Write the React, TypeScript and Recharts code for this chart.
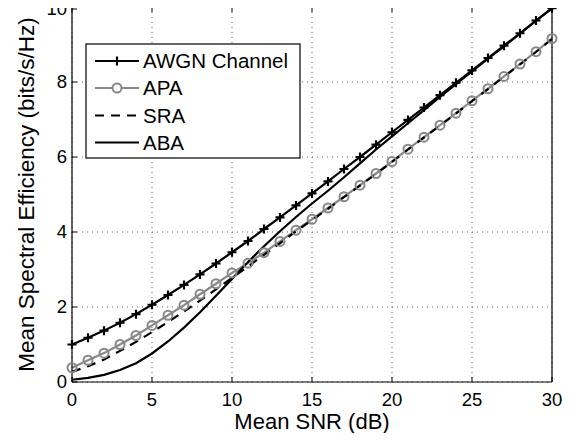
import React from 'react';
import { LineChart, Line, XAxis, YAxis, CartesianGrid } from 'recharts';

const snr = [0, 1, 2, 3, 4, 5, 6, 7, 8, 9, 10, 11, 12, 13, 14, 15, 16, 17, 18, 19, 20, 21, 22, 23, 24, 25, 26, 27, 28, 29, 30];
const awgn = [1.0, 1.18, 1.37, 1.58, 1.81, 2.06, 2.32, 2.59, 2.87, 3.16, 3.46, 3.76, 4.08, 4.39, 4.71, 5.03, 5.35, 5.68, 6.0, 6.33, 6.66, 6.99, 7.32, 7.65, 7.98, 8.31, 8.64, 8.97, 9.3, 9.64, 9.97];
const apa = [0.38, 0.58, 0.77, 1.0, 1.24, 1.51, 1.78, 2.05, 2.34, 2.62, 2.91, 3.17, 3.45, 3.75, 4.05, 4.34, 4.64, 4.94, 5.25, 5.56, 5.88, 6.21, 6.53, 6.85, 7.17, 7.5, 7.82, 8.15, 8.48, 8.81, 9.16];
const sra = [0.27, 0.42, 0.6, 0.83, 1.07, 1.33, 1.6, 1.88, 2.17, 2.47, 2.78, 3.08, 3.39, 3.7, 4.02, 4.32, 4.62, 4.93, 5.24, 5.55, 5.87, 6.2, 6.52, 6.84, 7.16, 7.49, 7.81, 8.14, 8.47, 8.8, 9.15];
const aba = [0.06, 0.11, 0.19, 0.32, 0.5, 0.76, 1.08, 1.45, 1.86, 2.3, 2.75, 3.2, 3.62, 4.02, 4.4, 4.76, 5.1, 5.46, 5.83, 6.2, 6.55, 6.9, 7.25, 7.6, 7.94, 8.28, 8.62, 8.95, 9.29, 9.63, 9.96];

const xTicks = [0, 5, 10, 15, 20, 25, 30];
const yTicks = [0, 2, 4, 6, 8, 10];
const seriesNames = ['AWGN Channel', 'APA', 'SRA', 'ABA'];

const data = snr.map((s, i) => ({ snr: s, awgn: awgn[i], apa: apa[i], sra: sra[i], aba: aba[i] }));

const GRAY = '#888888';
const FONT = '"Liberation Sans", Arial, Helvetica, sans-serif';

const BottomTick = (props: any) => {
  const { x, y, payload } = props;
  return (
    <g>
      <line x1={x} y1={y} x2={x} y2={y - 5} stroke="#000" />
      <text x={x} y={y + 24} textAnchor="middle" fontSize={18.5} fontFamily={FONT} fill="#000">{payload.value}</text>
    </g>
  );
};

const LeftTick = (props: any) => {
  const { x, y, payload } = props;
  return (
    <g>
      <line x1={x} y1={y} x2={x + 5} y2={y} stroke="#000" />
      <text x={x - 5} y={y} dy="0.35em" textAnchor="end" fontSize={18.5} fontFamily={FONT} fill="#000">{payload.value}</text>
    </g>
  );
};

const TopTick = (props: any) => {
  const { x, y } = props;
  return <line x1={x} y1={y} x2={x} y2={y + 5} stroke="#000" />;
};

const RightTick = (props: any) => {
  const { x, y } = props;
  return <line x1={x} y1={y} x2={x - 5} y2={y} stroke="#000" />;
};

const PlusDot = (props: any) => {
  const { cx, cy, index } = props;
  if (cx == null || cy == null) return <g key={index} />;
  return (
    <path key={index} d={`M${cx - 4.5},${cy}H${cx + 4.5}M${cx},${cy - 4.5}V${cy + 4.5}`} stroke="#000" strokeWidth={2.2} />
  );
};

const YLabel = (props: any) => {
  const vb = props.viewBox;
  const cx = vb.x + 14;
  const cy = vb.y + vb.height / 2;
  return (
    <text x={cx} y={cy} dy="0.35em" textAnchor="middle" fontSize={22.5} fontFamily={FONT} fill="#000" transform={`rotate(-90, ${cx}, ${cy})`}>
      Mean Spectral Efficiency (bits/s/Hz)
    </text>
  );
};

const XLabel = (props: any) => {
  const vb = props.viewBox;
  return (
    <text x={vb.x + vb.width / 2} y={vb.y + vb.height + 1} textAnchor="middle" fontSize={22} fontFamily={FONT} fill="#000">
      Mean SNR (dB)
    </text>
  );
};

const LegendBox = () => {
  const rows = [61, 88, 115.5, 142.5];
  return (
    <svg width={575} height={441} style={{ position: 'absolute', left: 0, top: 0, pointerEvents: 'none' }}>
      <rect x={86} y={44} width={214} height={114} fill="#fff" stroke="#000" strokeWidth={1.2} />
      <line x1={95} x2={139} y1={rows[0]} y2={rows[0]} stroke="#000" strokeWidth={2.2} />
      <path d={`M${117 - 4.5},${rows[0]}H${117 + 4.5}M117,${rows[0] - 4.5}V${rows[0] + 4.5}`} stroke="#000" strokeWidth={2.2} />
      <line x1={95} x2={139} y1={rows[1]} y2={rows[1]} stroke={GRAY} strokeWidth={2.2} />
      <circle cx={117} cy={rows[1]} r={4.5} fill="#fff" stroke={GRAY} strokeWidth={2} />
      <line x1={95} x2={139} y1={rows[2]} y2={rows[2]} stroke="#000" strokeWidth={2.2} strokeDasharray="9 7" />
      <line x1={95} x2={139} y1={rows[3]} y2={rows[3]} stroke="#000" strokeWidth={2.2} />
      {seriesNames.map((n, i) => (
        <text key={n} x={143} y={rows[i]} dy="0.36em" fontSize={20.5} fontFamily={FONT} fill="#000">{n}</text>
      ))}
    </svg>
  );
};

export default function App() {
  return (
    <div style={{ position: 'relative', width: 575, height: 441, margin: -8, background: '#fff' }}>
      <LineChart width={575} height={441} data={data} margin={{ top: 2, right: 13, bottom: 13, left: 12 }}>
        <CartesianGrid stroke="#666" strokeDasharray="1 4" strokeWidth={1} />
        <XAxis
          dataKey="snr"
          type="number"
          domain={[0, 30]}
          ticks={xTicks}
          height={46}
          tickLine={false}
          tickSize={0}
          tickMargin={0}
          tick={<BottomTick />}
          axisLine={{ stroke: '#000', strokeWidth: 1.2 }}
          label={{ content: <XLabel /> }}
        />
        <XAxis
          xAxisId="top"
          orientation="top"
          dataKey="snr"
          type="number"
          domain={[0, 30]}
          ticks={xTicks}
          height={5}
          tickLine={false}
          tickSize={0}
          tickMargin={0}
          tick={<TopTick />}
          axisLine={{ stroke: '#000', strokeWidth: 1.2 }}
        />
        <YAxis
          type="number"
          domain={[0, 10]}
          ticks={yTicks}
          width={60}
          tickLine={false}
          tickSize={0}
          tickMargin={0}
          tick={<LeftTick />}
          axisLine={{ stroke: '#000', strokeWidth: 1.2 }}
          label={{ content: <YLabel /> }}
        />
        <YAxis
          yAxisId="right"
          orientation="right"
          type="number"
          domain={[0, 10]}
          ticks={yTicks}
          width={10}
          tickLine={false}
          tickSize={0}
          tickMargin={0}
          tick={<RightTick />}
          axisLine={{ stroke: '#000', strokeWidth: 1.2 }}
        />
        <Line type="linear" dataKey="awgn" stroke="#000" strokeWidth={2.2} dot={<PlusDot />} isAnimationActive={false} />
        <Line type="linear" dataKey="apa" stroke={GRAY} strokeWidth={2.2} dot={{ r: 4.5, stroke: GRAY, strokeWidth: 2, fill: 'none' }} isAnimationActive={false} />
        <Line type="linear" dataKey="sra" stroke="#000" strokeWidth={2.2} strokeDasharray="9 7" dot={false} isAnimationActive={false} />
        <Line type="linear" dataKey="aba" stroke="#000" strokeWidth={2.2} dot={false} isAnimationActive={false} />
      </LineChart>
      <LegendBox />
    </div>
  );
}
